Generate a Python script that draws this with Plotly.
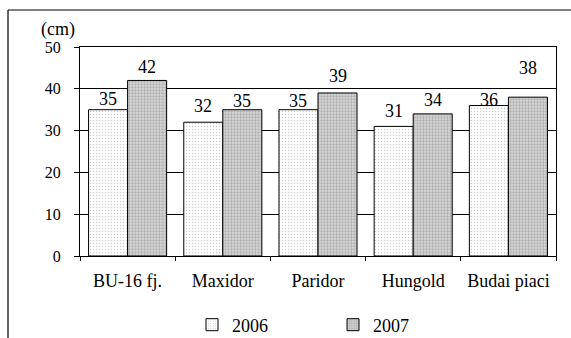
import plotly.graph_objects as go

# Plant height by variety, two seasons (cm)
varieties = ["BU-16 fj.", "Maxidor", "Paridor", "Hungold", "Budai piaci"]
height_2006 = [35, 32, 35, 31, 36]
height_2007 = [42, 35, 39, 34, 38]
series_names = ["2006", "2007"]
y_ticks = [0, 10, 20, 30, 40, 50]

# per-label vertical lift above the bar top (px)
lift_2006 = [11, 16, 9, 15, 6]
lift_2007 = [13, 9, 17, 14, 29]

W, H = 571, 338
ML, MR, MT, MB = 80, 15, 47, 82
plot_w = W - ML - MR
plot_h = H - MT - MB
BARGAP = 0.18

serif = "Liberation Serif"

fig = go.Figure()
fig.add_trace(go.Bar(
    x=varieties, y=height_2006, name=series_names[0],
    marker=dict(color="white", line=dict(color="black", width=1),
                pattern=dict(shape=".", fgcolor="#9a9a9a", bgcolor="white",
                             size=3, solidity=0.2)),
))
fig.add_trace(go.Bar(
    x=varieties, y=height_2007, name=series_names[1],
    marker=dict(color="#c8c8c8", line=dict(color="black", width=1),
                pattern=dict(shape=".", fgcolor="#8a8a8a", bgcolor="#d6d6d6",
                             size=3, solidity=0.45)),
))

# value labels above each bar
cat_w = plot_w / len(varieties)
half = cat_w * (1 - BARGAP) / 4
for vals, lifts, sign in ((height_2006, lift_2006, -1), (height_2007, lift_2007, 1)):
    for cat, v, lift in zip(varieties, vals, lifts):
        fig.add_annotation(x=cat, y=v, text=str(v), showarrow=False,
                           xshift=sign * half, yshift=lift, yanchor="middle",
                           font=dict(family=serif, size=18, color="black"))


def px_x(p):
    return (p - ML) / plot_w


def px_y(p):
    return (H - MB - p) / plot_h


# unit label
fig.add_annotation(xref="paper", yref="paper", x=px_x(58), y=px_y(29),
                   text="(cm)", showarrow=False,
                   xanchor="center", yanchor="middle",
                   font=dict(family=serif, size=18, color="black"))

# outer frame (left and top edges)
fig.add_shape(type="line", xref="paper", yref="paper",
              x0=px_x(8), x1=px_x(8), y0=px_y(10), y1=px_y(H + 5),
              line=dict(color="black", width=1.2))
fig.add_shape(type="line", xref="paper", yref="paper",
              x0=px_x(8), x1=px_x(W + 5), y0=px_y(10), y1=px_y(10),
              line=dict(color="black", width=1.2))

fig.update_layout(
    width=W, height=H,
    margin=dict(l=ML, r=MR, t=MT, b=MB, autoexpand=False),
    paper_bgcolor="white", plot_bgcolor="white",
    barmode="group", bargap=BARGAP, bargroupgap=0,
    font=dict(family=serif, size=18, color="black"),
    showlegend=True,
    legend=dict(orientation="h", x=px_x(192), xanchor="left",
                y=px_y(325), yanchor="middle",
                entrywidth=96, entrywidthmode="pixels",
                font=dict(family=serif, size=18, color="black"),
                bgcolor="rgba(0,0,0,0)", tracegroupgap=0),
)
fig.update_xaxes(
    showline=True, linecolor="black", linewidth=1, mirror=True,
    ticks="outside", tickson="boundaries", ticklen=4, tickcolor="black",
    ticklabelstandoff=8, tickfont=dict(family=serif, size=18),
    showgrid=False,
)
fig.update_yaxes(
    range=[0, 50], tickvals=y_ticks, ticktext=[str(t) for t in y_ticks],
    showline=True, linecolor="black", linewidth=1, mirror=True,
    ticks="outside", ticklen=5, tickcolor="black",
    ticklabelstandoff=10, tickfont=dict(family=serif, size=16),
    showgrid=True, gridcolor="black", gridwidth=1, zeroline=False,
)

fig.write_html("out.html")
